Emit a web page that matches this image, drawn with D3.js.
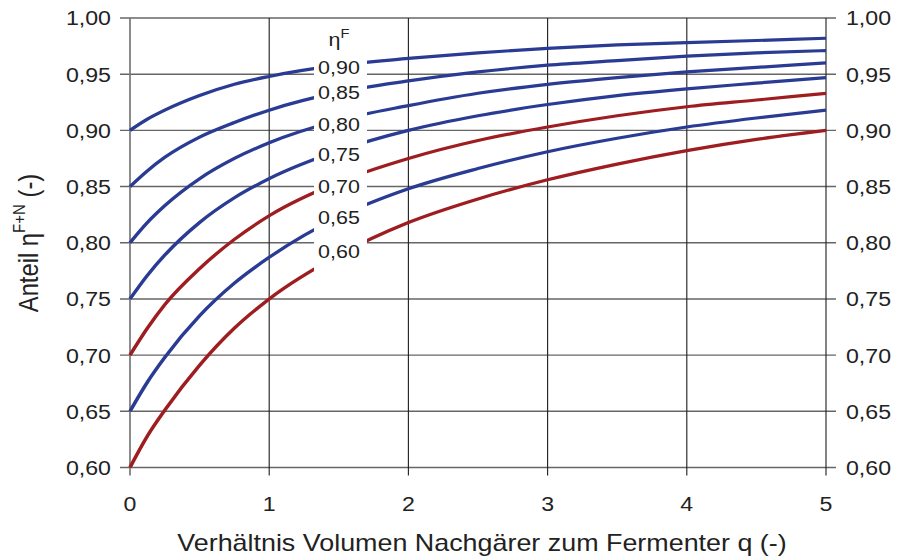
<!DOCTYPE html>
<html>
<head>
<meta charset="utf-8">
<script src="https://cdn.jsdelivr.net/npm/d3@7"></script>
<style>
  body { margin: 0; background: #fff; }
  svg { display: block; }
  text { font-family: "Liberation Sans", Arial, sans-serif; fill: #222; }
</style>
</head>
<body>
<div id="chart"></div>
<script>
// q values (Verhältnis Nachgärer / Fermenter)
const qValues = [0, 0.125, 0.25, 0.5, 0.75, 1, 1.5, 2, 2.5, 3, 3.5, 4, 4.5, 5];

// eta^F+N for each eta^F curve
const eta90 = [0.900, 0.910, 0.918, 0.931, 0.941, 0.948, 0.958, 0.964, 0.969, 0.973, 0.976, 0.978, 0.980, 0.982];
const eta85 = [0.850, 0.864, 0.876, 0.894, 0.907, 0.918, 0.934, 0.944, 0.952, 0.958, 0.962, 0.966, 0.969, 0.971];
const eta80 = [0.800, 0.818, 0.833, 0.857, 0.875, 0.889, 0.909, 0.922, 0.933, 0.941, 0.947, 0.952, 0.956, 0.960];
const eta75 = [0.750, 0.771, 0.789, 0.818, 0.840, 0.857, 0.882, 0.900, 0.913, 0.923, 0.931, 0.937, 0.942, 0.947];
const eta70 = [0.700, 0.724, 0.745, 0.777, 0.803, 0.824, 0.854, 0.875, 0.891, 0.903, 0.913, 0.921, 0.927, 0.933];
const eta65 = [0.650, 0.676, 0.698, 0.735, 0.764, 0.787, 0.823, 0.848, 0.866, 0.881, 0.893, 0.903, 0.911, 0.918];
const eta60 = [0.600, 0.628, 0.651, 0.691, 0.724, 0.750, 0.789, 0.818, 0.839, 0.856, 0.870, 0.882, 0.892, 0.900];

const curveNames = ["0,90", "0,85", "0,80", "0,75", "0,70", "0,65", "0,60"];
const curveValues = [eta90, eta85, eta80, eta75, eta70, eta65, eta60];
const curveRed = [false, false, false, false, true, false, true];

const xTicks = [0, 1, 2, 3, 4, 5];
const yTicks = [0.60, 0.65, 0.70, 0.75, 0.80, 0.85, 0.90, 0.95, 1.00];

// the original is a bit stretched sideways, so the whole drawing is scaled in x
const K = 1.13;
const W = 900 / K, H = 560;
const plotLeft = 130 / K, plotRight = 826 / K, plotTop = 18, plotBottom = 467.5;

const blue = "#2a3b94", red = "#9e1d20";
const fmt = d => d.toFixed(2).replace(".", ",");

const svg = d3.select("#chart").append("svg")
    .attr("width", 900)
    .attr("height", 560)
    .attr("viewBox", `0 0 ${W} ${H}`)
    .attr("preserveAspectRatio", "none");

const x = d3.scaleLinear().domain([0, 5]).range([plotLeft, plotRight]);
const y = d3.scaleLinear().domain([0.6, 1.0]).range([plotBottom, plotTop]);

// horizontal grid, with ticks sticking out on both sides
svg.append("g").selectAll("line").data(yTicks).join("line")
    .attr("x1", plotLeft - 10 / K).attr("x2", plotRight + 10 / K)
    .attr("y1", d => y(d)).attr("y2", d => y(d))
    .attr("stroke", "#666").attr("stroke-width", 1.4);

// vertical grid, ticks below the axis
svg.append("g").selectAll("line").data(xTicks).join("line")
    .attr("x1", d => x(d)).attr("x2", d => x(d))
    .attr("y1", plotTop).attr("y2", plotBottom + 8)
    .attr("stroke", d => d === 0 ? "#777" : "#222")
    .attr("stroke-width", d => d === 0 ? 1.5 : 1);

// left and right tick labels
svg.append("g").selectAll("text").data(yTicks).join("text")
    .attr("x", 111 / K).attr("y", d => y(d)).attr("dy", "0.36em")
    .attr("text-anchor", "end").attr("font-size", 20.5)
    .text(fmt);
svg.append("g").selectAll("text").data(yTicks).join("text")
    .attr("x", 846 / K).attr("y", d => y(d)).attr("dy", "0.36em")
    .attr("text-anchor", "start").attr("font-size", 20.5)
    .text(fmt);

// bottom tick labels
svg.append("g").selectAll("text").data(xTicks).join("text")
    .attr("x", d => x(d)).attr("y", 511)
    .attr("text-anchor", "middle").attr("font-size", 20.5)
    .text(d => d);

// curves
const line = d3.line()
    .x((d, i) => x(qValues[i]))
    .y(d => y(d))
    .curve(d3.curveMonotoneX);

svg.append("g").selectAll("path").data(curveValues).join("path")
    .attr("d", line)
    .attr("fill", "none")
    .attr("stroke", (d, i) => curveRed[i] ? red : blue)
    .attr("stroke-width", 3.2);

// label column with white background
const labelX = 339 / K;
const labelY = [67, 92, 124, 154, 186.5, 217, 251.5];
svg.append("rect")
    .attr("x", 314 / K).attr("y", 30)
    .attr("width", 53 / K).attr("height", 242)
    .attr("fill", "#fff");

const eta = svg.append("text")
    .attr("x", labelX).attr("y", 46)
    .attr("text-anchor", "middle").attr("font-size", 19);
eta.append("tspan").text("η");
eta.append("tspan").attr("font-size", 13).attr("dy", -8).text("F");

svg.append("g").selectAll("text").data(curveNames).join("text")
    .attr("x", labelX).attr("y", (d, i) => labelY[i]).attr("dy", "0.36em")
    .attr("text-anchor", "middle").attr("font-size", 19)
    .text(d => d);

// axis titles
svg.append("text")
    .attr("x", x(2.5) + 4 / K).attr("y", 551.5)
    .attr("text-anchor", "middle").attr("font-size", 23.8)
    .text("Verhältnis Volumen Nachgärer zum Fermenter q (-)");

const yt = svg.append("text")
    .attr("transform", `translate(${37.5 / K}, ${243}) rotate(-90)`)
    .attr("text-anchor", "middle").attr("font-size", 23.8);
yt.append("tspan").text("Anteil η");
yt.append("tspan").attr("font-size", 15).attr("dy", -11).text("F+N");
yt.append("tspan").attr("dy", 11).text(" (-)");
</script>
</body>
</html>
